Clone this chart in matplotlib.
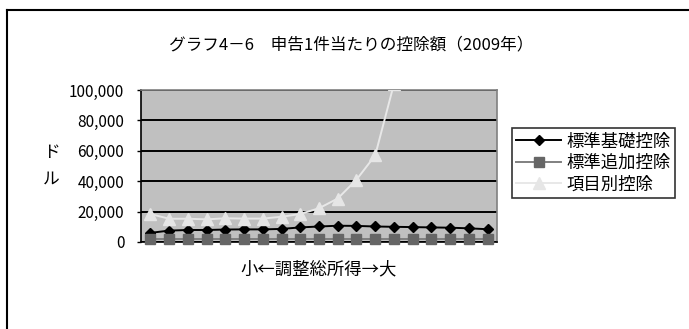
import matplotlib
matplotlib.use("Agg")
import matplotlib.pyplot as plt
from matplotlib.lines import Line2D
from matplotlib.ticker import FuncFormatter

plt.rcParams['font.family'] = ['Noto Sans CJK JP', 'DejaVu Sans']

# deduction per return, by AGI bracket (small -> large), dollars
brackets = list(range(19))
standard_basic = [6000, 7500, 7900, 7900, 8200, 8300, 8300, 8600, 9600, 10200,
                  10700, 10600, 10200, 10000, 9800, 9600, 9400, 9000, 8400]
standard_additional = [2000, 2000, 2000, 2000, 2000, 2000, 2000, 2000, 2000, 2000,
                       2000, 2000, 2000, 2000, 2000, 2000, 2000, 2000, 2000]
itemized = [18400, 15300, 15300, 14900, 15600, 15400, 15400, 16600, 18400, 22200,
            28600, 41000, 57000, 104000, 150000, 210000, 300000, 450000, 900000]
series_names = ['標準基礎控除', '標準追加控除', '項目別控除']
y_ticks = [0, 20000, 40000, 60000, 80000, 100000]

W, H = 689, 329
fig = plt.figure(figsize=(W / 100, H / 100), dpi=100)
ax = fig.add_axes([141 / W, 1 - 242 / H, (497 - 141) / W, (242 - 90) / H])
ax.set_facecolor('#c0c0c0')

ax.plot(brackets, standard_basic, color='black', lw=1.4, marker='D',
        markersize=5.5, markerfacecolor='black', markeredgecolor='black',
        label=series_names[0], zorder=3)
ax.plot(brackets, standard_additional, color='#808080', lw=1.4, marker='s',
        markersize=7, markerfacecolor='#666666', markeredgecolor='#666666',
        label=series_names[1], zorder=3, clip_on=False)
ax.plot(brackets, itemized, color='#e8e8e8', lw=1.4, marker='^',
        markersize=8, markerfacecolor='#e6e6e6', markeredgecolor='#e6e6e6',
        label=series_names[2], zorder=3)

ax.set_xlim(-0.5, len(brackets) - 0.5)
ax.set_ylim(0, 100000)
ax.set_yticks(y_ticks)
ax.yaxis.set_major_formatter(FuncFormatter(lambda v, p: f'{int(v):,}'))
ax.set_xticks([])
ax.tick_params(axis='y', length=3, width=1, pad=9, labelsize=11, colors='black')
ax.grid(axis='y', color='black', lw=1.4, zorder=1)
ax.set_axisbelow(True)
for s in ['top', 'right']:
    ax.spines[s].set_color('#808080')
    ax.spines[s].set_linewidth(1.2)
for s in ['left', 'bottom']:
    ax.spines[s].set_color('black')
    ax.spines[s].set_linewidth(1.2)

fig.text(351 / W, 1 - 45 / H, 'グラフ4－6　申告1件当たりの控除額（2009年）',
         ha='center', va='center', fontsize=12)
fig.text(319 / W, 1 - 269 / H, '小←調整総所得→大', ha='center', va='center',
         fontsize=12.5)
fig.text(51 / W, 1 - 166 / H, 'ド\nル', ha='center', va='center',
         fontsize=12, linespacing=1.7)

leg = fig.legend(loc='upper left', bbox_to_anchor=(512 / W, 1 - 128 / H),
                 fontsize=12.5, frameon=True, fancybox=False, handlelength=2.6,
                 handletextpad=0.3, borderpad=0.25, labelspacing=0.2,
                 borderaxespad=0)
leg.get_frame().set_edgecolor('black')
leg.get_frame().set_linewidth(1.2)

# outer chart frame (left and top edges)
fig.add_artist(Line2D([7 / W, 7 / W], [0, 1 - 10 / H], transform=fig.transFigure,
                      color='black', lw=1.5))
fig.add_artist(Line2D([7 / W, 1], [1 - 10 / H, 1 - 10 / H], transform=fig.transFigure,
                      color='black', lw=1.5))

fig.savefig('out.png', dpi=100)
